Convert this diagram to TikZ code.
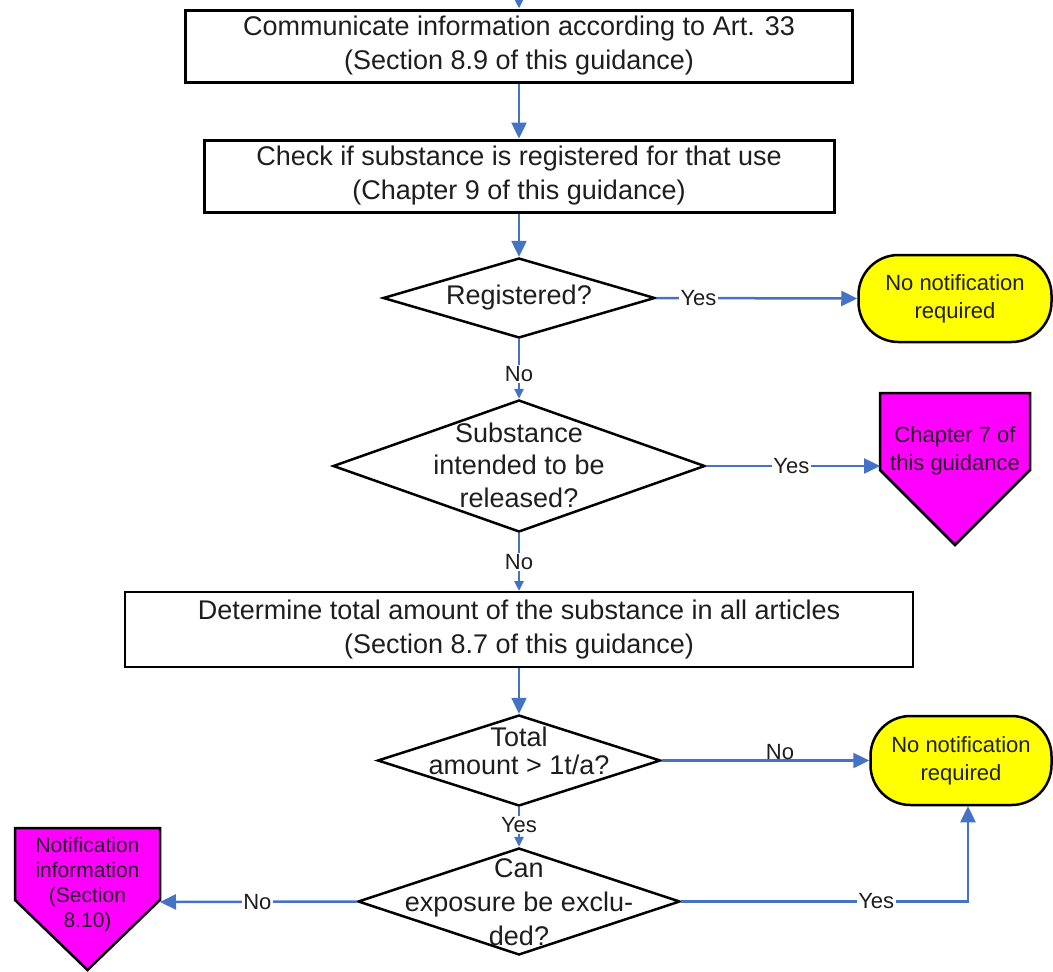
\documentclass[tikz,border=0pt]{standalone}
\usepackage{fontspec}
\setmainfont{Liberation Sans}
\usetikzlibrary{arrows.meta,shapes.geometric}
\definecolor{flowblue}{RGB}{68,114,196}
\definecolor{termyellow}{RGB}{255,255,0}
\definecolor{pagemag}{RGB}{255,0,255}
\definecolor{inkgray}{RGB}{30,30,30}

\tikzset{
  bigtext/.style={font=\fontsize{27}{34}\selectfont, text=inkgray},
  procbox/.style={draw, fill=white, line width=3pt, inner sep=0pt, align=center, bigtext},
  decision/.style={draw, fill=white, diamond, line width=2.5pt, inner sep=0pt},
  dectext/.style={align=center, inner sep=0pt, bigtext},
  terminal/.style={draw, fill=termyellow, line width=2.5pt, rounded corners=40pt, inner sep=0pt,
    align=center, font=\fontsize{22}{28}\selectfont, text=inkgray},
  offpage/.style={draw, fill=pagemag, line width=2.5pt, line join=miter},
  offtext/.style={align=center, inner sep=0pt, text=inkgray},
  flow/.style={draw=flowblue, line width=2.5pt, -{Triangle[length=16pt,width=15pt]}},
  flowsmall/.style={draw=flowblue, line width=2.5pt, -{Triangle[length=10pt,width=9pt]}},
  answer/.style={fill=white, inner sep=1.5pt, font=\fontsize{22}{24}\selectfont, text=inkgray},
}

\begin{document}
\begin{tikzpicture}[x=1pt,y=-1pt]
\useasboundingbox (0,0) rectangle (1053,972);

% process boxes
\node[procbox, minimum width=667, minimum height=72] (info) at (519,46)
  {Communicate information according to Art. 33\\(Section 8.9 of this guidance)};
\node[procbox, minimum width=630, minimum height=72] (check) at (519,176)
  {Check if substance is registered for that use\\(Chapter 9 of this guidance)};
\node[procbox, line width=2pt, minimum width=788, minimum height=75] (amount) at (519,629.5)
  {Determine total amount of the substance in all articles\\(Section 8.7 of this guidance)};

% decisions
\node[decision, minimum width=272, minimum height=80] (reg) at (519,298) {};
\node[dectext] (regt) at (reg.center) {Registered?};
\node[decision, minimum width=372, minimum height=132] (rel) at (519,466) {};
\node[dectext, font=\fontsize{27}{32.5}\selectfont] (relt) at (519,465) {Substance\\intended to be\\released?};
\node[decision, minimum width=283, minimum height=91] (tot) at (519,760.5) {};
\node[dectext, font=\fontsize{27}{28}\selectfont] (tott) at (519,751) {Total\\amount > 1t/a?};
\node[decision, minimum width=322, minimum height=107] (exp) at (519,901.5) {};
\node[dectext, font=\fontsize{27}{34}\selectfont] (expt) at (519,902) {Can\\exposure be exclu-\\ded?};

% terminals
\node[terminal, minimum width=193, minimum height=87] (none1) at (955,298.5) {No notification\\required};
\node[terminal, minimum width=181, minimum height=89] (none2) at (961,760.5) {No notification\\required};

% off-page connectors
\draw[offpage] (880,393) -- (1030,393) -- (1030,470) -- (955,545) -- (880,470) -- cycle;
\node[offtext, font=\fontsize{22}{28}\selectfont] (ch7) at (955,451) {Chapter 7 of\\this guidance};
\coordinate (ch7in) at (880,466);
\draw[offpage] (15,828) -- (160,828) -- (160,900) -- (87.5,970) -- (15,900) -- cycle;
\node[offtext, font=\fontsize{21}{25}\selectfont] (notif) at (87.5,885) {Notification\\information\\(Section\\8.10)};
\coordinate (notifin) at (160,902);

% connectors
\coordinate (entry) at (519,0);
\draw[flowsmall] (entry) -- (info.north);
\draw[flow] (info.south) -- (check.north);
\draw[flow] (check.south) -- (reg.north);
\draw[flow] (reg.east) -- node[answer, pos=0.21] {Yes} (none1.west);
\draw[flowsmall] (reg.south) -- node[answer, pos=0.58] {No} (rel.north);
\draw[flow] (rel.east) -- node[answer, pos=0.49] {Yes} (ch7in);
\draw[flowsmall] (rel.south) -- node[answer, pos=0.5] {No} (amount.north);
\draw[flow] (amount.south) -- (tot.north);
\draw[flow] (tot.east) -- node[answer, pos=0.57, fill=none, above, inner sep=0pt] {No} (none2.west);
\draw[flowsmall] (tot.south) -- node[answer, pos=0.45] {Yes} (exp.north);
\draw[flow] (exp.west) -- node[answer, pos=0.505] {No} (notifin);
\draw[flow] (exp.east) -| node[answer, pos=0.34] {Yes} ([xshift=7]none2.south);
\end{tikzpicture}
\end{document}
